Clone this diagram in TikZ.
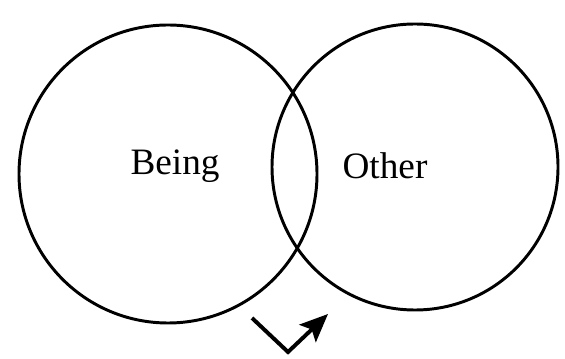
\documentclass[tikz,border=0pt]{standalone}
\usepackage{fontspec}
\setmainfont{Liberation Serif}
\usetikzlibrary{arrows.meta}

\begin{document}
\begin{tikzpicture}
  % bounding box
  \useasboundingbox (0,0) rectangle (14.125,8.95);
  % Circles
  \draw[line width=2.1pt] (4.2,4.6) circle (3.725);
  \draw[line width=2.1pt] (10.375,4.775) circle (3.575);
  % Labels
  \node[font=\fontsize{26.5}{32}\selectfont] (being) at (4.375,4.8) {Being};
  \node[font=\fontsize{26.5}{32}\selectfont] (other) at (9.625,4.8) {Other};
  % Arrow
  \coordinate (start) at (6.3,1.0);
  \coordinate (bend) at (7.2,0.15);
  \coordinate (tip) at (8.2,1.1);
  \draw[line width=2.8pt,-{Stealth[length=20pt,width=17pt,inset=4pt]}] (start) -- (bend) -- (tip);
\end{tikzpicture}
\end{document}
